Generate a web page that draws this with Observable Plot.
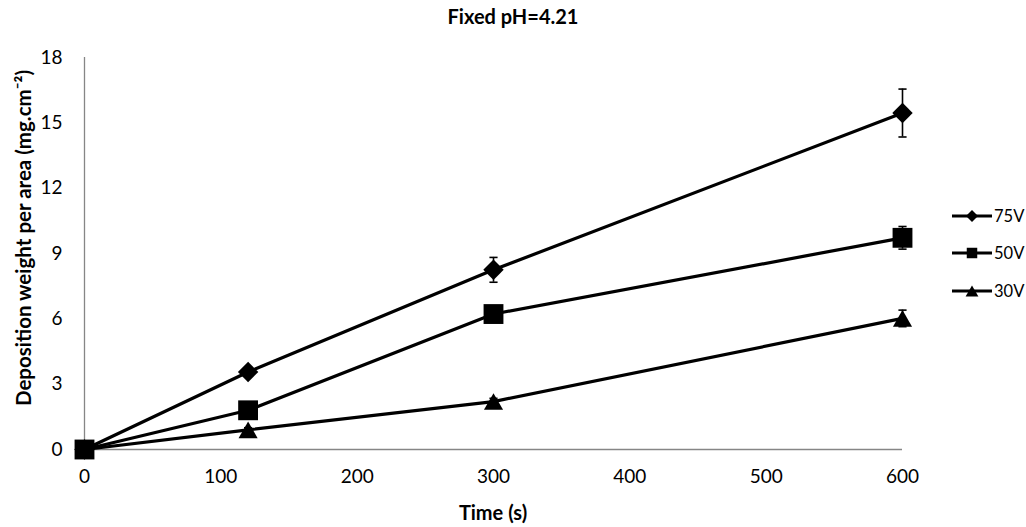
<!DOCTYPE html>
<html>
<head>
<meta charset="utf-8">
<script src="https://cdn.jsdelivr.net/npm/d3@7"></script>
<script src="https://cdn.jsdelivr.net/npm/@observablehq/plot@0.6"></script>
<style>
  body { margin: 0; background: #fff; }
  #wrap { position: relative; width: 1026px; height: 527px; font-family: Lato, "Open Sans", sans-serif; color: #000; }
  #title { position: absolute; top: 16px; left: 513px; transform: translate(-50%, -50%); white-space: nowrap; font-weight: bold; font-size: 20px; }
  #ylab { position: absolute; left: 23px; top: 238px; transform: translate(-50%, -50%) rotate(-90deg); white-space: nowrap; font-weight: bold; font-size: 20.5px; }
  #xlab { position: absolute; top: 512px; left: 493px; transform: translate(-50%, -50%); font-weight: bold; font-size: 20px; white-space: nowrap; }
  #legend { position: absolute; left: 951px; top: 206px; font-size: 16.5px; }
  .lrow { height: 37.4px; display: flex; align-items: flex-start; }
  .lrow svg { display: block; }
  .lrow span { line-height: 20px; margin-left: 2px; }
  #chart svg { position: absolute; left: 0; top: 0; }
</style>
</head>
<body>
<div id="wrap">
  <div id="chart"></div>
  <div id="title">Fixed pH=4.21</div>
  <div id="ylab">Deposition weight per area (mg.cm⁻²)</div>
  <div id="xlab">Time (s)</div>
  <div id="legend"></div>
</div>
<script>
const times = [0, 120, 300, 600];
const series = ["75V", "50V", "30V"];
const v75 = [0, 3.56, 8.25, 15.45];
const e75 = [0, 0.15, 0.57, 1.1];
const v50 = [0, 1.8, 6.22, 9.72];
const e50 = [0, 0.1, 0.25, 0.52];
const v30 = [0, 0.9, 2.2, 6.02];
const e30 = [0, 0.1, 0.15, 0.38];
const xTicks = [0, 100, 200, 300, 400, 500, 600];
const yTicks = [0, 3, 6, 9, 12, 15, 18];

const values = {"75V": v75, "50V": v50, "30V": v30};
const errors = {"75V": e75, "50V": e50, "30V": e30};
const rows = series.flatMap(s => times.map((t, i) => ({s, t, v: values[s][i], e: errors[s][i]})));
const errRows = rows.filter(d => d.e > 0);

const cap = { draw(ctx, size) { const w = Math.sqrt(size); ctx.moveTo(-w / 2, 0); ctx.lineTo(w / 2, 0); } };

const plot = Plot.plot({
  width: 1026,
  height: 527,
  marginLeft: 84,
  marginRight: 124,
  marginTop: 57,
  marginBottom: 78,
  style: { fontFamily: "Lato, 'Open Sans', sans-serif", fontSize: "19px", color: "#000", background: "transparent" },
  x: { domain: [0, 600], label: null },
  y: { domain: [0, 18], label: null },
  marks: [
    Plot.axisX({ ticks: xTicks, tickSize: 0, tickPadding: 20, label: null, fontSize: 19 }),
    Plot.axisY({ ticks: yTicks, tickSize: 0, tickPadding: 22, label: null, fontSize: 19 }),
    Plot.ruleY([0], { stroke: "#868686", strokeWidth: 1.3 }),
    Plot.ruleX([0], { stroke: "#868686", strokeWidth: 1.3 }),
    Plot.line(rows, { x: "t", y: "v", z: "s", stroke: "#000", strokeWidth: 3.2 }),
    Plot.ruleX(errRows, { x: "t", y1: d => d.v - d.e, y2: d => d.v + d.e, stroke: "#000", strokeWidth: 1.6 }),
    Plot.dot(errRows, { x: "t", y: d => d.v + d.e, symbol: cap, r: 4.6, stroke: "#000", strokeWidth: 1.6, fill: "none" }),
    Plot.dot(errRows, { x: "t", y: d => d.v - d.e, symbol: cap, r: 4.6, stroke: "#000", strokeWidth: 1.6, fill: "none" }),
    Plot.dot(rows.filter(d => d.s === "75V"), { x: "t", y: "v", symbol: "diamond2", r: 9.2, fill: "#000", stroke: "none" }),
    Plot.dot(rows.filter(d => d.s === "50V"), { x: "t", y: "v", symbol: "square", r: 11.2, fill: "#000", stroke: "none" }),
    Plot.dot(rows.filter(d => d.s === "30V"), { x: "t", y: "v", symbol: "triangle", r: 7.1, dy: 2.75, fill: "#000", stroke: "none" })
  ]
});
document.getElementById("chart").appendChild(plot);

// legend
const legSyms = {"75V": [d3.symbolDiamond2, 92], "50V": [d3.symbolSquare, 110], "30V": [d3.symbolTriangle, 71]};
const leg = d3.select("#legend");
series.forEach(s => {
  const row = leg.append("div").attr("class", "lrow");
  const svg = row.append("svg").attr("width", 41).attr("height", 20);
  svg.append("line").attr("x1", 1).attr("x2", 41).attr("y1", 10).attr("y2", 10).attr("stroke", "#000").attr("stroke-width", 3);
  const [sym, size] = legSyms[s];
  svg.append("path").attr("d", d3.symbol(sym, size)()).attr("transform", `translate(21,${s === "30V" ? 11.8 : 10})`).attr("fill", "#000");
  row.append("span").text(s);
});
</script>
</body>
</html>
